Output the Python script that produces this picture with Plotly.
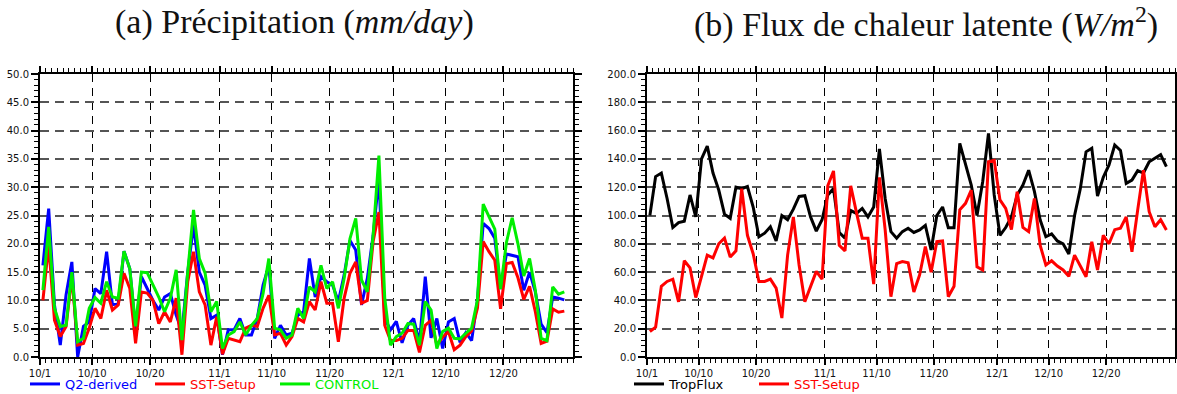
import plotly.graph_objects as go
import pandas as pd

# ---------------- data ----------------
start_date = "2013-10-01"
n_days = 91
tick_dates = ["2013-10-01", "2013-10-10", "2013-10-20", "2013-11-01", "2013-11-10",
              "2013-11-20", "2013-12-01", "2013-12-10", "2013-12-20"]
tick_labels = ["10/1", "10/10", "10/20", "11/1", "11/10", "11/20", "12/1", "12/10", "12/20"]

# (a) Precipitation (mm/day)
q2_derived = [16.2, 26.2, 9.2, 2.1, 11.0, 16.8, 0.0, 5.4, 6.2, 12.1,
              11.2, 18.6, 9.2, 9.5, 18.7, 15.6, 4.8, 14.2, 12.1, 10.0,
              8.3, 10.6, 11.2, 7.4, 4.5, 15.0, 23.3, 15.0, 12.7, 6.8,
              7.4, 0.4, 4.8, 4.8, 6.8, 3.9, 3.9, 6.8, 12.7, 16.2,
              3.3, 5.6, 3.9, 4.2, 7.4, 8.0, 17.4, 10.6, 14.2, 13.3,
              12.7, 9.8, 14.5, 20.6, 18.9, 9.2, 13.9, 21.5, 31.8, 6.8,
              4.8, 6.3, 2.5, 5.6, 6.8, 2.5, 14.2, 3.4, 6.8, 1.5,
              6.2, 6.8, 2.6, 4.3, 2.9, 10.0, 23.6, 22.7, 21.0, 12.0,
              18.2, 17.9, 17.7, 11.8, 15.0, 11.5, 5.8, 4.3, 10.6, 10.4,
              10.1]
sst_setup_precip = [10.0, 19.8, 6.5, 3.6, 5.4, 14.2, 2.1, 2.4, 5.1, 8.6,
                    6.8, 11.8, 8.3, 9.2, 14.8, 12.1, 2.4, 11.5, 11.3, 10.0,
                    5.9, 8.0, 6.2, 10.4, 0.4, 13.3, 18.6, 11.5, 9.2, 2.1,
                    7.1, 0.5, 3.3, 3.0, 2.7, 5.1, 5.6, 5.4, 8.6, 10.9,
                    3.9, 4.2, 2.1, 3.6, 6.8, 6.2, 9.8, 8.3, 13.3, 9.5,
                    9.5, 2.7, 10.4, 14.8, 16.8, 9.5, 10.0, 20.4, 25.6, 5.6,
                    2.9, 2.9, 3.3, 4.7, 4.7, 0.8, 5.6, 6.5, 2.1, 3.5,
                    4.5, 1.3, 2.1, 3.6, 4.6, 8.6, 20.4, 18.6, 17.1, 8.5,
                    16.5, 16.7, 14.0, 10.2, 12.5, 8.0, 2.4, 2.8, 8.5, 7.9,
                    8.1]
control = [11.8, 23.0, 8.6, 5.4, 5.6, 15.0, 2.7, 3.3, 8.6, 10.5,
           9.5, 13.3, 10.6, 10.4, 18.7, 15.6, 5.4, 15.0, 14.9, 12.7,
           10.6, 8.0, 10.4, 15.4, 3.0, 15.0, 26.0, 17.4, 14.8, 8.0,
           9.8, 1.5, 3.9, 4.5, 6.2, 3.9, 5.6, 6.8, 11.2, 17.4,
           5.1, 4.8, 3.3, 3.9, 8.6, 6.8, 12.4, 11.5, 16.2, 12.1,
           13.3, 8.6, 13.9, 20.9, 24.5, 13.6, 11.5, 21.5, 35.6, 10.5,
           2.1, 3.6, 4.2, 5.9, 5.8, 2.1, 9.8, 8.3, 1.5, 4.5,
           5.1, 3.3, 3.2, 4.2, 5.1, 10.0, 27.0, 24.8, 22.6, 12.0,
           20.2, 24.6, 20.0, 14.3, 17.4, 11.8, 3.3, 2.9, 12.4, 11.1,
           11.5]

# (b) Latent heat flux (W/m2)
tropflux = [100, 127.5, 130, 112, 91.5, 95, 96, 114.5, 99, 140,
            149, 130, 118, 101, 98, 120, 119, 120.5, 106, 85,
            87.5, 92, 82, 100, 97, 104.5, 113.5, 114, 99, 89,
            97, 114.5, 119, 88, 84, 103.5, 101.5, 105, 99, 106,
            147, 112, 88.6, 84, 88.6, 91, 88, 89.8, 93, 75.6,
            100, 106, 91.4, 91.4, 151, 137, 121.5, 100, 124, 158,
            114.5, 86, 91.5, 99, 114.5, 121.5, 132, 117, 97, 85,
            87, 82, 80, 72.8, 100, 119, 145, 147.5, 113.8, 127,
            135.7, 149.8, 146, 122.7, 125, 131.7, 130, 138, 140.4, 143,
            134.5]
sst_setup_lhf = [18, 21, 50, 53.4, 55, 39, 68, 63, 42, 57,
                 72, 70, 80, 84, 70.6, 75, 119, 86, 73, 53.4,
                 53.4, 55, 48.7, 27.5, 72, 99, 65, 39, 50, 60.5,
                 55, 121, 131.5, 79, 75, 121, 102, 84, 84, 51.5,
                 127, 89.8, 42.6, 66, 67.4, 66.6, 46, 58, 78, 60,
                 81.5, 82, 42.6, 50, 104, 108.6, 118, 63.8, 61.5, 138,
                 139, 111, 105, 90, 116.8, 91.6, 88.6, 112, 79, 65,
                 68, 64.3, 61.5, 57, 72, 63.8, 56.7, 81.5, 61.5, 86,
                 80, 90, 91, 99, 74.4, 104, 132, 102.7, 92, 97,
                 89.8]

dates = pd.date_range(start_date + " 12:00", periods=n_days, freq="D")

# ---------------- figure ----------------
W, H = 1177, 394
fig = go.Figure()

series = [
    # values, colour, name, axes, legend id, legend left (px)
    (q2_derived, "#0000ff", "Q2-derived", "x", "y", "legend", 25),
    (sst_setup_precip, "#ff0000", "SST-Setup", "x", "y", "legend2", 150),
    (control, "#00ee00", "CONTROL", "x", "y", "legend3", 275),
    (tropflux, "#000000", "TropFlux", "x2", "y2", "legend4", 629),
    (sst_setup_lhf, "#ff0000", "SST-Setup", "x2", "y2", "legend5", 754),
]

legends = {}
for vals, color, name, xa, ya, leg, lx in series:
    fig.add_trace(go.Scatter(
        x=dates, y=vals, mode="lines", xaxis=xa, yaxis=ya,
        line=dict(color=color, width=3), name=name,
        legend=leg, hoverinfo="skip"))
    legends[leg] = dict(orientation="h", x=lx / W, xanchor="left",
                        y=(H - 369) / H, yanchor="top", itemwidth=30,
                        font=dict(family="DejaVu Sans", size=13, color=color),
                        bgcolor="rgba(0,0,0,0)")

tickfont = dict(family="DejaVu Sans", size=10, color="#111111")

def xaxis(domain, anchor):
    return dict(
        domain=domain, anchor=anchor, type="date", automargin=False,
        range=["2013-10-01", "2014-01-01"],
        tickmode="array", tickvals=tick_dates, ticktext=tick_labels,
        ticks="outside", ticklen=6, tickwidth=1.5, tickcolor="black",
        showline=True, linewidth=2, linecolor="black", mirror="allticks",
        showgrid=True, gridcolor="black", gridwidth=1.3, griddash="8px,6px",
        minor=dict(ticks="outside", ticklen=4, tickwidth=1, tickcolor="black",
                   dtick=86400000, tick0="2013-10-01", showgrid=False),
        tickfont=tickfont, zeroline=False, fixedrange=True)

def yaxis(domain, anchor, rng, dtick, mdtick):
    return dict(
        domain=domain, anchor=anchor, range=rng, dtick=dtick, tick0=0,
        tickformat=".1f", automargin=False,
        ticks="outside", ticklen=7, tickwidth=1.5, tickcolor="black",
        showline=True, linewidth=2, linecolor="black", mirror="allticks",
        showgrid=True, gridcolor="#555555", gridwidth=1.8, griddash="9px,6px",
        minor=dict(ticks="outside", ticklen=4, tickwidth=1, tickcolor="black",
                   dtick=mdtick, tick0=0, showgrid=False),
        tickfont=tickfont, zeroline=False, fixedrange=True)

ydom = [(H - 357) / H, (H - 74) / H]

fig.update_layout(
    width=W, height=H,
    margin=dict(l=0, r=0, t=0, b=0, autoexpand=False),
    paper_bgcolor="white", plot_bgcolor="white",
    xaxis=xaxis([40 / W, 573 / W], "y"),
    yaxis=yaxis(ydom, "x", [0, 50], 5, 1),
    xaxis2=xaxis([647 / W, 1175 / W], "y2"),
    yaxis2=yaxis(ydom, "x2", [0, 200], 20, 4),
    annotations=[
        dict(text="(a) Précipitation (<i>mm/day</i>)", x=294 / W, y=1 - 22 / H,
             xref="paper", yref="paper", xanchor="center", yanchor="middle",
             showarrow=False, font=dict(family="Liberation Serif", size=34, color="#111")),
        dict(text="(b) Flux de chaleur latente (<i>W/m</i><sup>2</sup>)", x=926 / W, y=1 - 22 / H,
             xref="paper", yref="paper", xanchor="center", yanchor="middle",
             showarrow=False, font=dict(family="Liberation Serif", size=34, color="#111")),
    ],
    showlegend=True,
    **legends,
)

fig.write_html("out.html",
               config={"displayModeBar": False},
               post_script="document.body.style.margin='0';document.body.style.overflow='hidden';")
